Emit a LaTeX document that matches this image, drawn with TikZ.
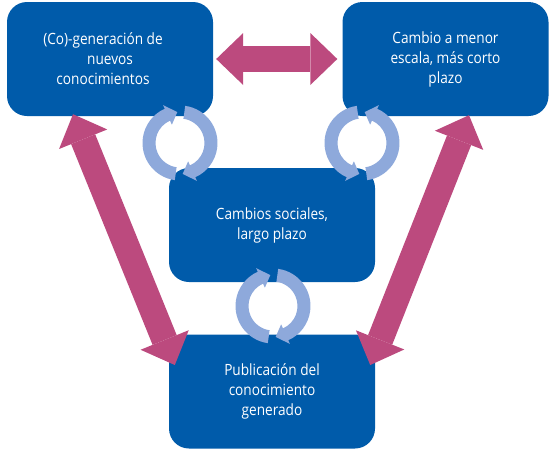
\documentclass[tikz,border=0pt]{standalone}
\usepackage{fontspec}
\setmainfont{Open Sans}[FakeStretch=0.88]
\usetikzlibrary{arrows.meta,calc}
\definecolor{boxblue}{HTML}{005BAA}
\definecolor{magarrow}{HTML}{BC4A7E}
\definecolor{ringc}{HTML}{8EA9DB}
\newcommand{\ringarrow}[5]{%
  \fill[ring, shift={(#1,#2)}] (#3:37.5) arc[start angle=#3, end angle=#4, radius=37.5]
    -- (#4:41.5) -- (#5:31) -- (#4:20) -- (#4:24.5)
    arc[start angle=#4, end angle=#3, radius=24.5] -- cycle;}
\newcommand{\lsh}{\hspace*{14pt}}
\begin{document}
\begin{tikzpicture}[x=1pt,y=-1pt,
  box/.style={fill=boxblue, rounded corners=20pt, minimum width=206pt, minimum height=114pt,
    inner sep=0pt, align=center, text=white, font=\fontsize{15.5}{20}\selectfont},
  blockarrow/.style={draw=magarrow, line width=26pt,
    {Triangle[width=52pt,length=27pt,line width=0pt]}-{Triangle[width=52pt,length=27pt,line width=0pt]}},
  ring/.style={fill=ringc}]
\useasboundingbox (0,0) rectangle (551,453);
\node[box] (tl) at (110,59) {(Co)-generación de\lsh\\nuevos\lsh\\conocimientos\lsh};
\node[box] (tr) at (445.5,59) {Cambio a menor\\escala, más corto\\plazo};
\node[box] (mid) at (272,225) {Cambios sociales,\\largo plazo};
\node[box] (bot) at (272,391.5) {Publicación del\\conocimiento\\generado};
\draw[blockarrow] ($(tl.east)+(3,0)$) -- ($(tr.west)+(-5,0)$);
\draw[blockarrow] ($(tl.south)+(-37,-2)$) -- ($(bot.west)+(6,-26.5)$);
\draw[blockarrow] ($(tr.south)+(23.5,-1)$) -- ($(bot.east)+(-5,-26.5)$);
\ringarrow{180}{143}{98}{246}{265}
\ringarrow{180}{143}{278}{426}{445}
\ringarrow{362}{143}{82}{-66}{-85}
\ringarrow{362}{143}{262}{114}{95}
\ringarrow{273}{306}{98}{246}{265}
\ringarrow{273}{306}{278}{426}{445}
\end{tikzpicture}
\end{document}
